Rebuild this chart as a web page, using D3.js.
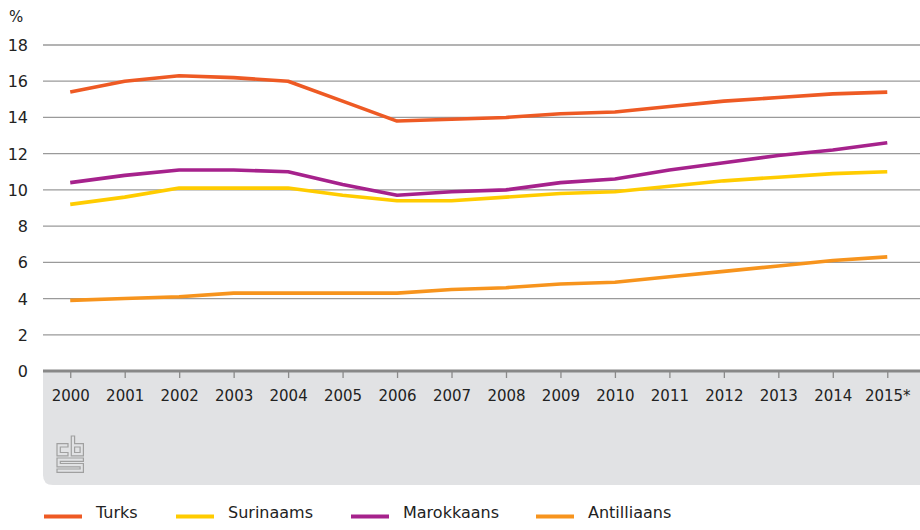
<!DOCTYPE html>
<html><head><meta charset="utf-8">
<script src="https://cdn.jsdelivr.net/npm/d3@7"></script>
<style>
body{margin:0;background:#fff;}
text{font-family:"DejaVu Sans",sans-serif;}
</style></head>
<body><svg id="c" width="920" height="530"></svg>
<script>
const years = ["2000","2001","2002","2003","2004","2005","2006","2007","2008","2009","2010","2011","2012","2013","2014","2015*"];
const turks = [15.4,16.0,16.3,16.2,16.0,14.9,13.8,13.9,14.0,14.2,14.3,14.6,14.9,15.1,15.3,15.4];
const surinaams = [9.2,9.6,10.1,10.1,10.1,9.7,9.4,9.4,9.6,9.8,9.9,10.2,10.5,10.7,10.9,11.0];
const marokkaans = [10.4,10.8,11.1,11.1,11.0,10.3,9.7,9.9,10.0,10.4,10.6,11.1,11.5,11.9,12.2,12.6];
const antilliaans = [3.9,4.0,4.1,4.3,4.3,4.3,4.3,4.5,4.6,4.8,4.9,5.2,5.5,5.8,6.1,6.3];
const yTicks = [0,2,4,6,8,10,12,14,16,18];
const seriesNames = ["Turks","Surinaams","Marokkaans","Antilliaans"];
const seriesColors = ["#ee5a24","#ffcc00","#a6228c","#f7941d"];
const seriesData = [turks, surinaams, marokkaans, antilliaans];

const svg = d3.select("#c");
const L = 43, R = 920, T = 45, B = 371;
const x = d3.scalePoint().domain(years).range([L, 914.5]).padding(0.5);
const y = d3.scaleLinear().domain([0,18]).range([B, T]);

// gray band below axis
svg.append("path")
  .attr("d", `M${L},${B} H${R} V485 H${L+10} Q${L},485 ${L},475 Z`)
  .attr("fill","#e1e2e4");

// grid
svg.append("g").selectAll("line").data(yTicks.filter(d=>d>0)).join("line")
  .attr("x1",L).attr("x2",R).attr("y1",d=>y(d)).attr("y2",d=>y(d))
  .attr("stroke","#9a9a9a").attr("stroke-width",1.3);

// y labels
svg.append("g").selectAll("text").data(yTicks).join("text")
  .attr("x",28).attr("y",d=>y(d)+6).attr("text-anchor","end")
  .attr("font-size",16).attr("fill","#222").text(d=>d);
svg.append("text").attr("x",9).attr("y",22).attr("font-size",15).attr("fill","#222").text("%");

// x axis
const xAxis = d3.axisBottom(x).tickSize(7).tickPadding(12);
const gx = svg.append("g").attr("transform",`translate(0,${B})`).call(xAxis);
gx.select(".domain").remove();
gx.selectAll(".tick line").attr("stroke","#8a8a8a").attr("stroke-width",1.3);
gx.selectAll(".tick text").attr("font-size",15).attr("fill","#222")
  .attr("font-family","'DejaVu Sans',sans-serif");
svg.append("line").attr("x1",L).attr("x2",R).attr("y1",B).attr("y2",B)
  .attr("stroke","#888").attr("stroke-width",3);

// lines
const line = d3.line().x((d,i)=>x(years[i])).y(d=>y(d));
seriesData.forEach((s,k)=>{
  svg.append("path").datum(s).attr("d",line).attr("fill","none")
    .attr("stroke",seriesColors[k]).attr("stroke-width",3.6).attr("stroke-linejoin","round");
});

// cbs logo
const lg = svg.append("g").attr("transform","translate(57,436) scale(1.1)").attr("fill","none").attr("stroke","#a0a0a0").attr("stroke-width",1.1);
lg.append("path").attr("d","M10,7 H0 V18 H10 V15 H3 V10 H10 Z");
lg.append("path").attr("d","M13,0 H16 V7 H24 V18 H13 Z M16,10 H21 V15 H16 Z");
lg.append("path").attr("d","M24,20 H0 V28 H21 V30 H0 V33 H24 V25 H3 V23 H24 Z");

// legend
const legX = [44,176,351,536];
seriesNames.forEach((n,k)=>{
  svg.append("line").attr("x1",legX[k]).attr("x2",legX[k]+38).attr("y1",516.5).attr("y2",516.5)
    .attr("stroke",seriesColors[k]).attr("stroke-width",4);
  svg.append("text").attr("x",legX[k]+52).attr("y",518).attr("font-size",16)
    .attr("font-family","'DejaVu Sans Condensed','DejaVu Sans',sans-serif")
    .attr("textLength", null)
    .attr("fill","#222").text(n);
});
</script></body></html>
